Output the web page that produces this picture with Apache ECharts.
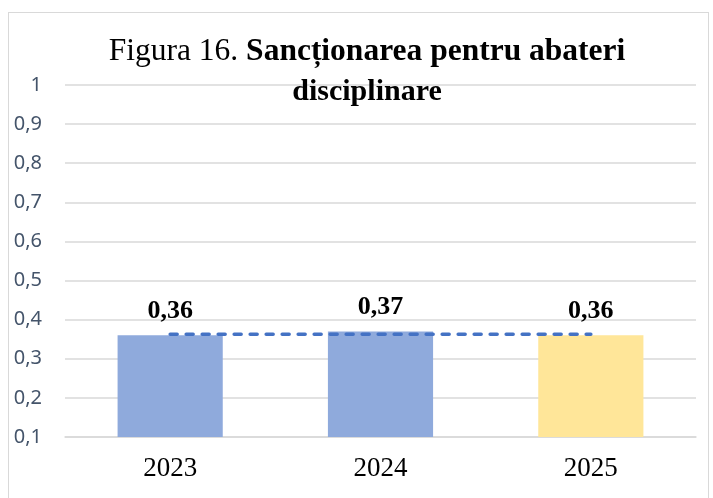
<!DOCTYPE html>
<html>
<head>
<meta charset="utf-8">
<script src="https://cdn.jsdelivr.net/npm/echarts@6/dist/echarts.min.js"></script>
<style>
  html, body { margin: 0; padding: 0; background: #fff; }
  #frame { position: absolute; left: 8px; top: 12px; width: 701px; height: 500px; border: 1.5px solid #D9D9D9; box-sizing: border-box; }
  #chart { position: absolute; left: 0; top: 0; width: 713px; height: 498px; }
</style>
</head>
<body>
<div id="frame"></div>
<div id="chart"></div>
<script>
var years = ['2023', '2024', '2025'];
var values = [0.36, 0.37, 0.36];
var barColors = ['#8FAADC', '#8FAADC', '#FFE699'];
var trendValues = [0.363, 0.363, 0.363];
var yTicks = ['0,1', '0,2', '0,3', '0,4', '0,5', '0,6', '0,7', '0,8', '0,9', '1'];

var chartDom = document.getElementById('chart');
var myChart = echarts.init(chartDom);

var option = {
    animation: false,
    title: {
        text: '{a|Figura 16. }{b|Sancționarea pentru abateri}\n{c|disciplinare}',
        left: 362,
        top: 28,
        textAlign: 'center',
        textStyle: {
            align: 'center',
            rich: {
                a: { fontFamily: 'Liberation Serif', fontSize: 31.5, fontWeight: 'normal', color: '#000', lineHeight: 38 },
                b: { fontFamily: 'Liberation Serif', fontSize: 31.5, fontWeight: 'bold', color: '#000', lineHeight: 38 },
                c: { fontFamily: 'Liberation Serif', fontSize: 30, fontWeight: 'bold', color: '#000', lineHeight: 42 }
            }
        }
    },
    grid: {
        left: 65,
        right: 17,
        top: 85,
        bottom: 61
    },
    xAxis: {
        type: 'category',
        data: years,
        axisLine: { lineStyle: { color: '#D9D9D9', width: 1.5 } },
        axisTick: { show: false },
        axisLabel: {
            fontFamily: 'Liberation Serif',
            fontSize: 27,
            color: '#000',
            margin: 18
        }
    },
    yAxis: {
        type: 'value',
        min: 0.1,
        max: 1,
        interval: 0.1,
        axisLine: { show: false },
        axisTick: { show: false },
        splitLine: { lineStyle: { color: '#D9D9D9', width: 1.5 } },
        axisLabel: {
            fontFamily: 'Noto Sans',
            fontSize: 20,
            color: '#44546A',
            margin: 23,
            formatter: function (v) {
                return yTicks[Math.round(v * 10) - 1];
            }
        }
    },
    series: [
        {
            type: 'bar',
            barWidth: '50%',
            data: values.map(function (v, i) {
                return { value: v, itemStyle: { color: barColors[i] } };
            }),
            label: {
                show: true,
                position: 'top',
                distance: 11,
                fontFamily: 'Liberation Serif',
                fontSize: 26,
                fontWeight: 'bold',
                color: '#000',
                formatter: function (p) {
                    return String(p.value).replace('.', ',');
                }
            }
        },
        {
            type: 'line',
            data: trendValues,
            symbol: 'none',
            lineStyle: { color: '#4472C4', width: 3.5, type: [7, 9], cap: 'round' },
            z: 5
        }
    ]
};
myChart.setOption(option);
</script>
</body>
</html>
